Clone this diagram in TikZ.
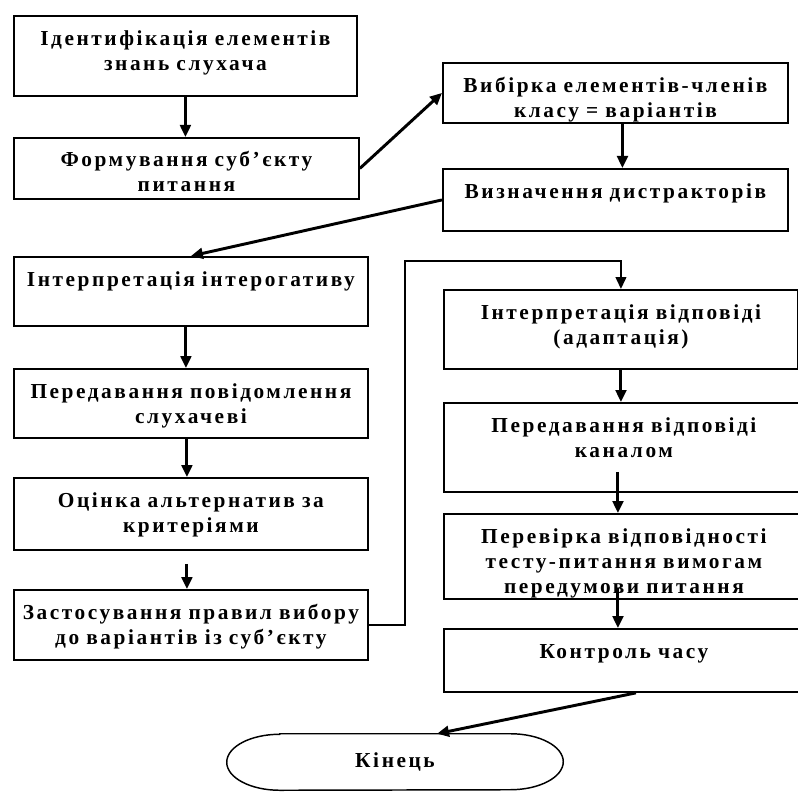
\documentclass[tikz,border=0pt]{standalone}
\usepackage{fontspec}
\setmainfont{Liberation Serif}[LetterSpace=12]
\usetikzlibrary{arrows.meta,calc}
\tikzset{
  blok/.style={draw, line width=1.4pt, anchor=north west, inner sep=0pt, align=center,
    text height=22.5pt, font=\bfseries\fontsize{16}{18.5}\selectfont},
  strilka/.style={line width=2.2pt, -{Triangle[length=9pt,width=8pt]}},
}
\begin{document}
\begin{tikzpicture}[x=0.75pt,y=0.75pt,yscale=-1,xscale=1]
\useasboundingbox (0,0) rectangle (798,791);
% Shape: Rectangle (left column)
\node[blok, text width=257.25pt, text depth=37.5pt] (A) at (13,15) {Ідентифікація елементів\\знань слухача};
\node[blok, text width=258.75pt, text height=21.75pt, text depth=24pt] (B) at (13,137) {Формування суб’єкту\\питання};
% Shape: Rectangle (top right)
\node[blok, text width=258.75pt, text depth=22.5pt] (C) at (442,62) {Вибірка елементів-членів\\класу = варіантів};
\node[blok, text width=258.75pt, text depth=24pt] (D) at (442,168) {Визначення дистракторів};
% Shape: Rectangle (left column, lower)
\node[blok, text width=265.5pt, text depth=29.25pt] (E) at (13,256) {Інтерпретація інтерогативу};
\node[blok, text width=265.5pt, text depth=29.25pt] (F) at (13,368) {Передавання повідомлення\\слухачеві};
\node[blok, text width=265.5pt, text depth=31.5pt] (G) at (13,477) {Оцінка альтернатив за\\критеріями};
\node[blok, text width=265.5pt, text depth=30pt] (H) at (13,589) {Застосування правил вибору\\до варіантів із суб’єкту};
% Shape: Rectangle (right column)
\node[blok, text width=265.5pt, text depth=36.75pt] (I) at (443,289) {Інтерпретація відповіді\\(адаптація)};
\node[blok, text width=270pt, text depth=44.25pt] (J) at (443,402) {Передавання відповіді\\каналом};
\node[blok, text width=270pt, text depth=41.25pt] (K) at (443,513) {Перевірка відповідності\\тесту-питання вимогам\\передумови питання};
\node[blok, text width=270pt, text depth=24.75pt] (L) at (443,628) {Контроль часу};
% Shape: Terminator
\node[minimum width=172.5pt, minimum height=42pt, inner sep=0pt, font=\bfseries\fontsize{16}{18.5}\selectfont] (M) at (395,762) {Кінець};
\draw[line width=1.1pt] (M.north west) -- (M.north east) arc[start angle=-90,end angle=90,x radius=53,y radius=28]
  -- (M.south west) arc[start angle=90,end angle=270,x radius=53,y radius=28] -- cycle;
% Straight Lines
\draw[strilka] (A.south) -- (A.south |- B.north);
\draw[strilka] (B.east) -- (C.west);
\draw[strilka] ($(C.south)+(7,0)$) -- ($(D.north)+(7,0)$);
\draw[strilka] (D.west) -- (E.north);
\draw[strilka] ($(E.south)+(-5,0)$) -- ($(F.north)+(-5,0)$);
\draw[strilka] ($(F.south)+(-4,0)$) -- ($(G.north)+(-4,0)$);
\draw[strilka] ($(G.south)+(-4,13)$) -- ($(H.north)+(-4,0)$);
\coordinate (povorot) at (405,261);
\draw[strilka, line width=1.6pt] (H.east) -| (povorot) -| (I.north);
\draw[strilka] (I.south) -- (I.south |- J.north);
\draw[strilka] ($(J.south)+(-6,-21)$) -- ($(K.north)+(-6,0)$);
\draw[strilka] ($(K.south)+(-6,-12)$) -- ($(L.north)+(-6,0)$);
\draw[strilka] ($(L.south)+(12,0)$) -- ($(M.north)+(42,0)$);
\end{tikzpicture}
\end{document}
